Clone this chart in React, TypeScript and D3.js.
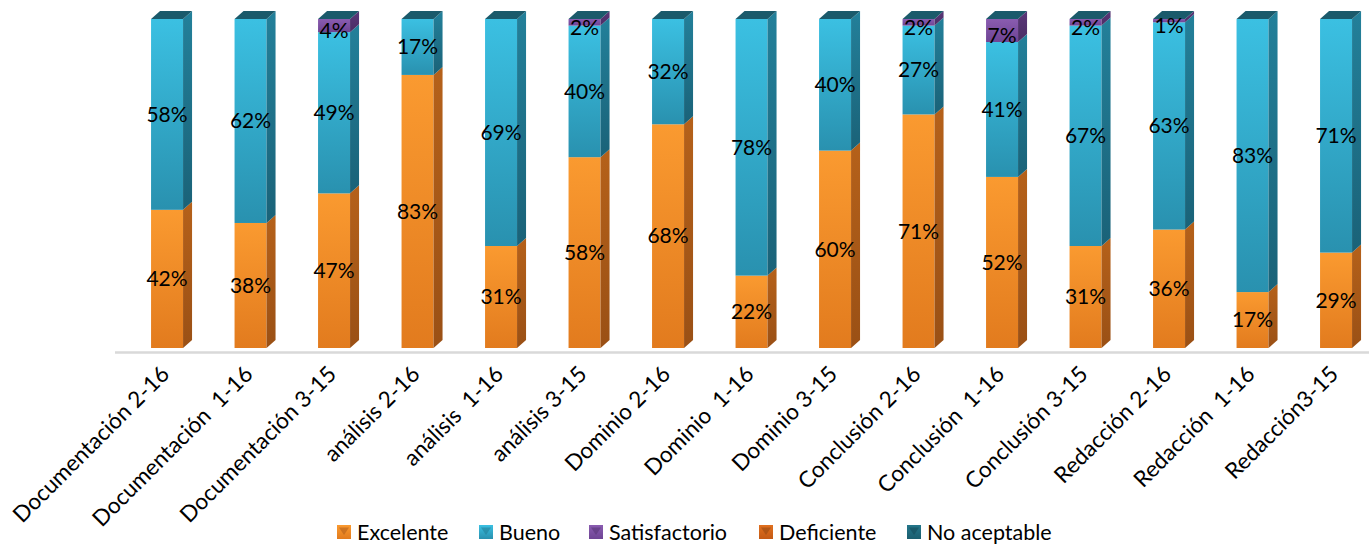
import React from "react";
import * as d3 from "d3";

const categories = [
  "Documentación 2-16", "Documentación  1-16", "Documentación 3-15",
  "análisis 2-16", "análisis  1-16", "análisis 3-15",
  "Dominio 2-16", "Dominio  1-16", "Dominio 3-15",
  "Conclusión 2-16", "Conclusión  1-16", "Conclusión 3-15",
  "Redacción 2-16", "Redacción  1-16", "Redacción3-15",
];
const seriesNames = ["Excelente", "Bueno", "Satisfactorio", "Deficiente", "No aceptable"];
const excelente = [42, 38, 47, 83, 31, 58, 68, 22, 60, 71, 52, 31, 36, 17, 29];
const bueno = [58, 62, 49, 17, 69, 40, 32, 78, 40, 27, 41, 67, 63, 83, 71];
const satisfactorio = [0, 0, 4, 0, 0, 2, 0, 0, 0, 2, 7, 2, 1, 0, 0];
const deficiente = [0, 0, 0, 0, 0, 0, 0, 0, 0, 0, 0, 0, 0, 0, 0];
const noAceptable = [0, 0, 0, 0, 0, 0, 0, 0, 0, 0, 0, 0, 0, 0, 0];

const seriesValues = [excelente, bueno, satisfactorio, deficiente, noAceptable];

const styles = [
  { top: "#F9A04A", light: "#FA9A30", dark: "#E27B1E", side: "#B5611A", sideDark: "#9A5015" },
  { top: "#1B6578", light: "#3BC0E2", dark: "#2991AF", side: "#23809A", sideDark: "#1A6278" },
  { top: "#5A3A78", light: "#8A5CB0", dark: "#6E4494", side: "#5A3779", sideDark: "#4A2D64" },
  { top: "#A04A10", light: "#E0701F", dark: "#C45A15", side: "#9A4A12", sideDark: "#80400F" },
  { top: "#1B5A6B", light: "#24768A", dark: "#1B5E6F", side: "#164D5B", sideDark: "#113F4B" },
];

const legendTextX = [357, 499, 609, 779, 927];

const W = 1369, H = 544;
const DX = 9, DY = 8, FW = 32;
const FONT = "Lato, 'Open Sans', sans-serif";

export default function App() {
  const x = d3.scaleBand<string>().domain(categories).range([125.3, 1377.8]);
  const y = d3.scaleLinear().domain([0, 100]).range([348, 19]);
  const stack = d3.stack<number>().keys(d3.range(seriesNames.length).map(String))
    .value((i, k) => seriesValues[+k][i]);
  const stacked = stack(d3.range(categories.length));

  return (
    <svg width={W} height={H} style={{ position: "absolute", left: 0, top: 0, background: "#fff" }}>
      <defs>
        {styles.map((s, i) => (
          <React.Fragment key={i}>
            <linearGradient id={`f${i}`} x1="0" y1="0" x2="0" y2="1">
              <stop offset="0" stopColor={s.light} />
              <stop offset="1" stopColor={s.dark} />
            </linearGradient>
            <linearGradient id={`s${i}`} x1="0" y1="0" x2="0" y2="1">
              <stop offset="0" stopColor={s.side} />
              <stop offset="1" stopColor={s.sideDark} />
            </linearGradient>
          </React.Fragment>
        ))}
      </defs>
      <line x1={115} x2={1369} y1={352.5} y2={352.5} stroke="#D9D9D9" strokeWidth={2.5} />
      {categories.map((c, ci) => {
        const cx = (x(c) as number) + x.bandwidth() / 2;
        const x0 = cx - FW / 2;
        return (
          <g key={c}>
            {stacked.map((layer, si) => {
              const [v0, v1] = layer[ci];
              if (v1 - v0 <= 0) return null;
              const yb = y(v0), yt = y(v1);
              return (
                <g key={si}>
                  <rect x={x0} y={yt} width={FW} height={yb - yt} fill={`url(#f${si})`} />
                  <polygon
                    points={`${x0 + FW},${yt} ${x0 + FW + DX},${yt - DY} ${x0 + FW + DX},${yb - DY} ${x0 + FW},${yb}`}
                    fill={`url(#s${si})`}
                  />
                </g>
              );
            })}
            <polygon
              points={`${x0},${y(100)} ${x0 + DX},${y(100) - DY} ${x0 + FW + DX},${y(100) - DY} ${x0 + FW},${y(100)}`}
              fill={styles[4].top}
            />
            {stacked.map((layer, si) => {
              const [v0, v1] = layer[ci];
              if (v1 - v0 <= 0) return null;
              const my = (y(v0) + y(v1)) / 2;
              return (
                <text key={"t" + si} x={cx} y={si === 2 ? my + 5 : my} dy="0.35em" textAnchor="middle"
                  fontFamily={FONT} fontSize={21} fill="#000">
                  {`${v1 - v0}%`}
                </text>
              );
            })}
            <text
              transform={`translate(${cx - 2},${370}) rotate(-45)`}
              textAnchor="end" dy="0.35em" fontFamily={FONT} fontSize={22.5} fill="#000"
              style={{ whiteSpace: "pre" }}
            >
              {c}
            </text>
          </g>
        );
      })}
      {seriesNames.map((n, i) => (
        <g key={n} transform={`translate(${legendTextX[i]},${532})`}>
          <rect x={-20} y={-7} width={14} height={14} fill={`url(#f${i})`} />
          <polygon points="-18,-4.5 -8,-4.5 -13,3" fill={styles[i].side} opacity={0.6} />
          <text x={0} y={0} dy="0.35em" fontFamily={FONT} fontSize={21.5} fill="#000">{n}</text>
        </g>
      ))}
    </svg>
  );
}
